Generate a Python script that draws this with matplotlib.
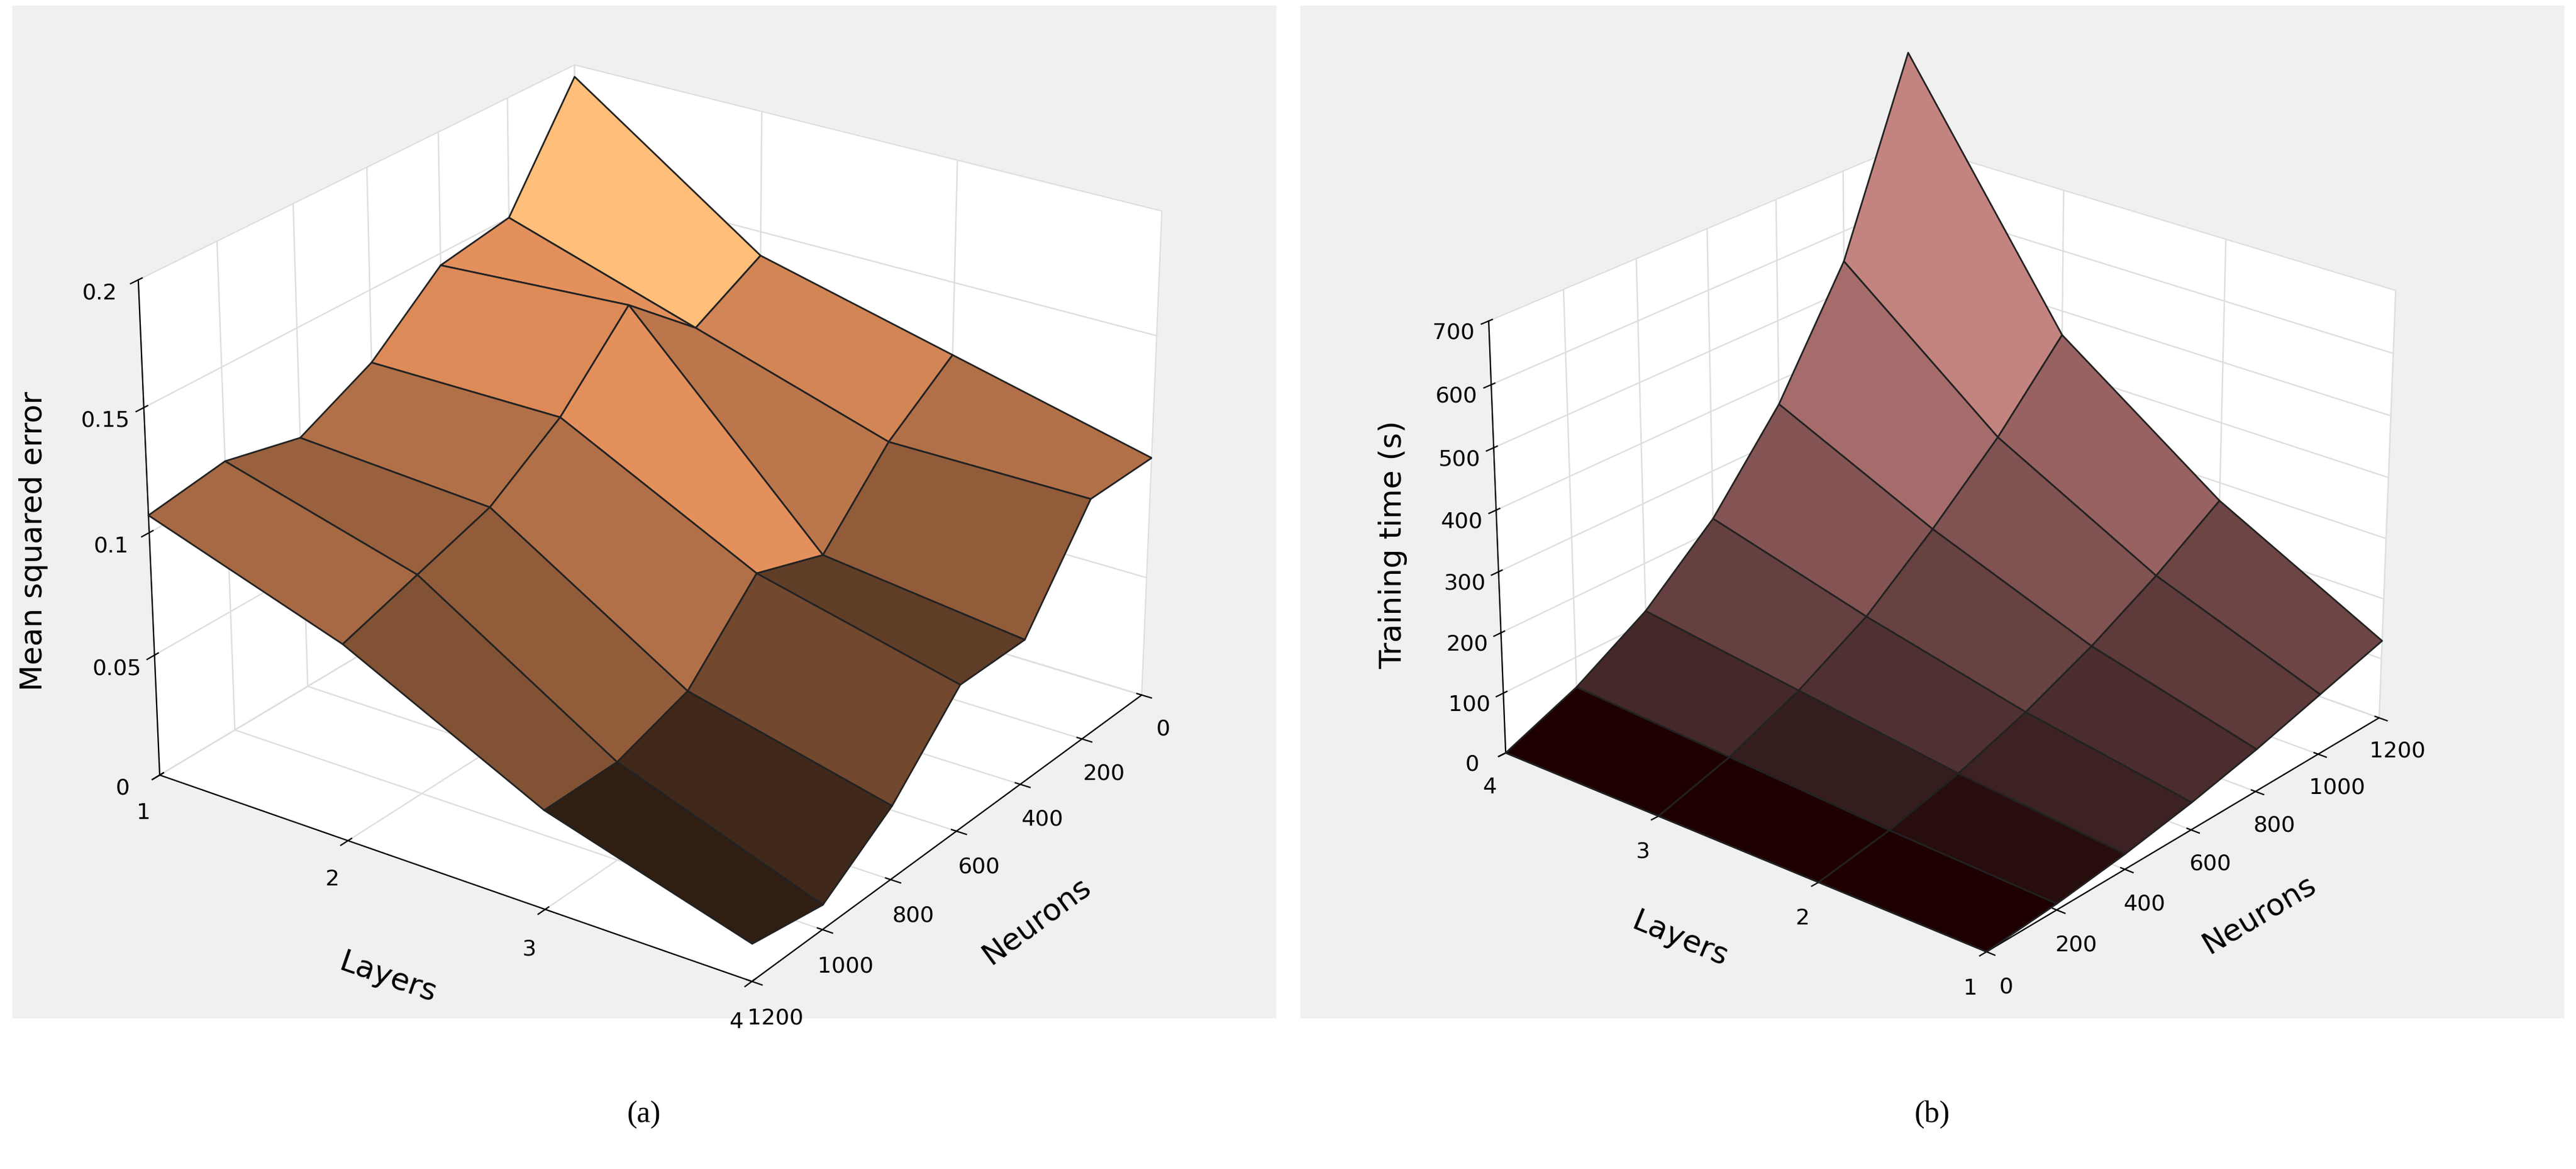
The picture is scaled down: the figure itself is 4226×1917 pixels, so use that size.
import matplotlib.pyplot as plt
import numpy as np
from matplotlib import cm

neurons = [0, 200, 400, 600, 800, 1000, 1200]
layers = [1, 2, 3, 4]

# mean squared error, rows = layers, cols = neurons
mse = [
    [0.195, 0.150, 0.145, 0.120, 0.105, 0.112, 0.107],
    [0.140, 0.125, 0.150, 0.120, 0.100, 0.090, 0.080],
    [0.120, 0.100, 0.070, 0.080, 0.050, 0.040, 0.040],
    [0.100, 0.100, 0.060, 0.060, 0.030, 0.010, 0.015],
]

# training time (s)
train_time = [
    [0, 10, 25, 45, 70, 100, 130],
    [0, 20, 50, 90, 140, 200, 270],
    [0, 35, 85, 150, 240, 340, 460],
    [0, 50, 120, 220, 360, 550, 850],
]

fig = plt.figure(figsize=(21.13, 9.585), dpi=200)
fig.patch.set_facecolor('white')

# grey panels like the MATLAB window
fig.patches.append(plt.Rectangle((0.005, 0.13), 0.49, 0.865, transform=fig.transFigure,
                                 color='#f0f0f0', zorder=-10))
fig.patches.append(plt.Rectangle((0.505, 0.13), 0.49, 0.865, transform=fig.transFigure,
                                 color='#f0f0f0', zorder=-10))

N, L = np.meshgrid(neurons, layers)


def make_ax(rect, Z, cmap, zlim, zticks, zticklabels, azim, zlabel, zoom):
    ax = fig.add_axes(rect, projection='3d')
    ax.patch.set_alpha(0)
    Z = np.array(Z, dtype=float)
    norm = plt.Normalize(Z.min(), Z.max())
    ax.plot_surface(N, L, Z, facecolors=cmap(norm(Z) * 0.95), edgecolor='#222222',
                    linewidth=1.0, shade=False, rstride=1, cstride=1)
    ax.set_xlim(0, 1200)
    ax.set_ylim(1, 4)
    ax.set_zlim(*zlim)
    ax.set_xticks(neurons)
    ax.set_yticks(layers)
    ax.set_zticks(zticks)
    ax.set_zticklabels(zticklabels)
    ax.set_xlabel('Neurons', fontsize=18, labelpad=20)
    ax.set_ylabel('Layers', fontsize=18, labelpad=20)
    ax.zaxis.set_rotate_label(False)
    ax.set_zlabel(zlabel, fontsize=18, labelpad=14, rotation=90)
    ax.tick_params(labelsize=13)
    for a in (ax.xaxis, ax.yaxis, ax.zaxis):
        a.set_pane_color((1, 1, 1, 1))
        a._axinfo['grid']['color'] = '#dddddd'
    ax.view_init(elev=25, azim=azim)
    ax.set_box_aspect(None, zoom=zoom)
    return ax


make_ax([0.0, 0.13, 0.5, 0.87], mse, cm.copper, (0, 0.2),
        [0, 0.05, 0.1, 0.15, 0.2], ['0', '0.05', '0.1', '0.15', '0.2'],
        35, 'Mean squared error', 1.1)
make_ax([0.5, 0.12, 0.5, 0.84], train_time, cm.pink, (0, 700),
        list(range(0, 701, 100)), [str(v) for v in range(0, 701, 100)],
        -140, 'Training time (s)', 1.0)

fig.text(0.25, 0.04, '(a)', ha='center', fontsize=18, family='Liberation Serif')
fig.text(0.75, 0.04, '(b)', ha='center', fontsize=18, family='Liberation Serif')

plt.savefig('out.png', dpi=200)
